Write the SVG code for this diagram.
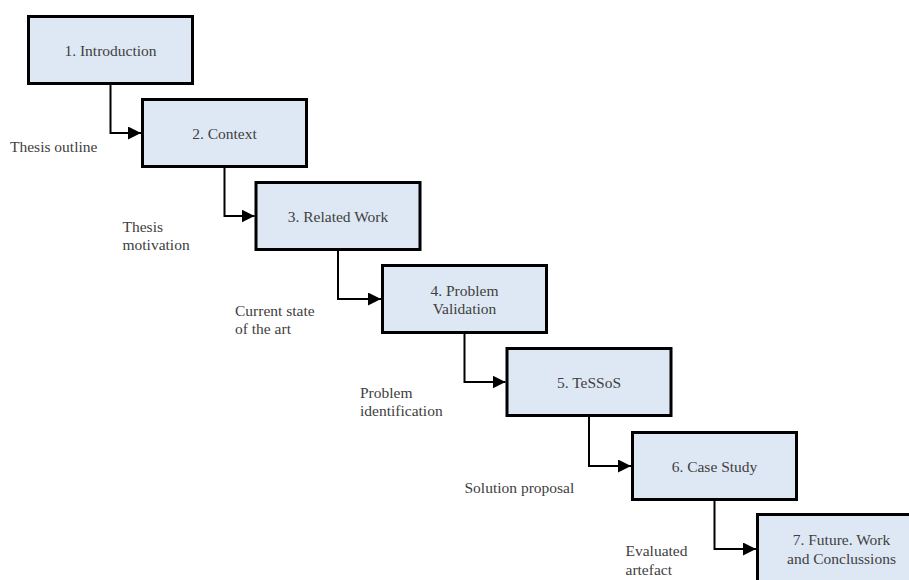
<svg xmlns="http://www.w3.org/2000/svg" width="909" height="580" viewBox="0 0 909 580">
<style>
.box{fill:#dee8f4;stroke:#000;stroke-width:3}
text{font-family:'Liberation Serif','Times New Roman',Tinos,'DejaVu Serif',serif;font-size:15.5px;fill:#404040}
.c{text-anchor:middle}
.con{fill:none;stroke:#000;stroke-width:2}
</style>
<defs>
<marker id="ah" markerUnits="userSpaceOnUse" markerWidth="13" markerHeight="13" refX="13" refY="6.5" orient="auto" viewBox="0 0 13 13">
<path d="M0,0 L13,6.5 L0,13 z" fill="#000"/>
</marker>
</defs>
<rect width="909" height="580" fill="#fff"/>
<g id="connectors">
<path class="con" d="M110.5 85 V133 H141" marker-end="url(#ah)"/>
<path class="con" d="M224.5 168 V216 H254.5" marker-end="url(#ah)"/>
<path class="con" d="M338 251 V299 H381" marker-end="url(#ah)"/>
<path class="con" d="M464.5 334 V382 H505.5" marker-end="url(#ah)"/>
<path class="con" d="M589 417 V466 H631" marker-end="url(#ah)"/>
<path class="con" d="M714.5 501 V549 H756" marker-end="url(#ah)"/>
</g>
<g font-family="Liberation Serif, Times New Roman, serif">
<g id="n1"><rect class="box" x="28.5" y="16.5" width="164" height="67"/><text class="c" x="110.5" y="55.5">1. Introduction</text></g>
<g id="n2"><rect class="box" x="142.5" y="99.5" width="164" height="67"/><text class="c" x="224.5" y="138.5">2. Context</text></g>
<g id="n3"><rect class="box" x="256" y="182.5" width="164" height="67"/><text class="c" x="338" y="221.5">3. Related Work</text></g>
<g id="n4"><rect class="box" x="382.5" y="265.5" width="164" height="67"/><text class="c" x="464.5" y="295.5">4. Problem</text><text class="c" x="464.5" y="313.5">Validation</text></g>
<g id="n5"><rect class="box" x="507" y="348.5" width="164" height="67"/><text class="c" x="589" y="387.5">5. TeSSoS</text></g>
<g id="n6"><rect class="box" x="632.5" y="432.5" width="164" height="67"/><text class="c" x="714.5" y="471.5">6. Case Study</text></g>
<g id="n7"><rect class="box" x="757.5" y="514.5" width="164" height="67"/><text class="c" x="841.5" y="545">7. Future. Work</text><text class="c" x="841.5" y="563.5">and Conclussions</text></g>
<g id="labels">
<text x="10" y="152">Thesis outline</text>
<text x="122.5" y="232">Thesis</text>
<text x="122.5" y="250">motivation</text>
<text x="235" y="315.5">Current state</text>
<text x="235" y="333.5">of the art</text>
<text x="360" y="398">Problem</text>
<text x="360" y="416">identification</text>
<text x="464.5" y="492.5">Solution proposal</text>
<text x="625.5" y="556">Evaluated</text>
<text x="625.5" y="574.5">artefact</text>
</g>
</g>
</svg>
